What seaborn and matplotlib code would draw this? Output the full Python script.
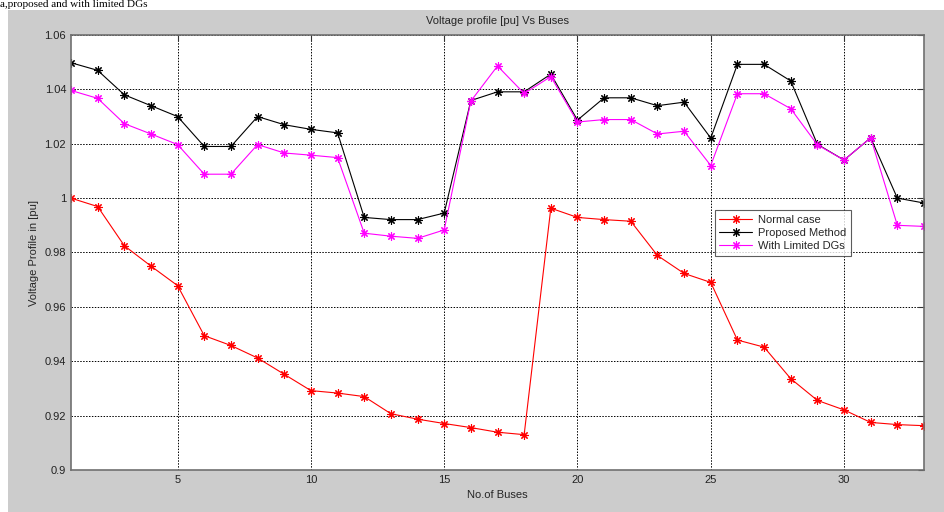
import numpy as np
import pandas as pd
import seaborn as sns
import matplotlib.pyplot as plt
from matplotlib.patches import Rectangle
from matplotlib.ticker import FuncFormatter

# bus numbers 1..33
buses = list(range(1, 34))

normal_case = [1.0, 0.9969, 0.9825, 0.9750, 0.9678, 0.9494, 0.9458, 0.9412, 0.9352, 0.9292,
               0.9283, 0.9270, 0.9207, 0.9187, 0.9171, 0.9156, 0.9139, 0.9130, 0.9963, 0.9929,
               0.9921, 0.9915, 0.9789, 0.9723, 0.9690, 0.9478, 0.9452, 0.9336, 0.9256, 0.9221,
               0.9175, 0.9167, 0.9163]

proposed = [1.0498, 1.0470, 1.0380, 1.0340, 1.0300, 1.0190, 1.0190, 1.0300, 1.0270, 1.0253,
            1.0240, 0.9929, 0.9921, 0.9921, 0.9945, 1.0359, 1.0391, 1.0391, 1.0456, 1.0287,
            1.0369, 1.0369, 1.0340, 1.0353, 1.0221, 1.0492, 1.0492, 1.0431, 1.0198, 1.0140,
            1.0222, 1.0000, 0.9982]

limited_dgs = [1.0396, 1.0367, 1.0274, 1.0236, 1.0197, 1.0088, 1.0088, 1.0197, 1.0166, 1.0158,
               1.0149, 0.9871, 0.9860, 0.9852, 0.9883, 1.0357, 1.0486, 1.0385, 1.0447, 1.0280,
               1.0289, 1.0289, 1.0236, 1.0246, 1.0120, 1.0384, 1.0384, 1.0329, 1.0196, 1.0140,
               1.0222, 0.9900, 0.9896]

series_names = ["Normal case", "Proposed Method", "With Limited DGs"]
series_colors = ["#ff0000", "#000000", "#ff00ff"]

df = pd.DataFrame({"bus": buses, series_names[0]: normal_case,
                   series_names[1]: proposed, series_names[2]: limited_dgs})
df = df.melt(id_vars="bus", var_name="case", value_name="voltage")

sns.set_style("white")
plt.rcParams['font.family'] = ['Liberation Sans', 'DejaVu Sans']

fig = plt.figure(figsize=(9.45, 5.12), dpi=100)
fig.patch.set_facecolor("white")
# gray MATLAB figure background, behind the axes
fig.patches.append(Rectangle((8 / 945, 0), 1, 502 / 512, transform=fig.transFigure,
                             facecolor="#cccccc", edgecolor="none", zorder=-5))
# caption text from the page above the figure
fig.text(0.0, 1.0, "a,proposed and with limited DGs", family="Liberation Serif",
         fontsize=8, va="top", ha="left", color="black")

ax = fig.add_axes([71 / 945, 42 / 512, 853 / 945, 435 / 512])
ax.set_facecolor("white")
ax.set_zorder(1)

for name, color in zip(series_names, series_colors):
    sub = df[df["case"] == name]
    sns.lineplot(data=sub, x="bus", y="voltage", ax=ax, color=color, linewidth=0.8,
                 marker=(8, 2, 0), markersize=6, markeredgecolor=color,
                 markeredgewidth=0.8, label=name)

ax.set_xlim(1, 33)
ax.set_ylim(0.9, 1.06)
ax.set_xticks([5, 10, 15, 20, 25, 30])
ax.set_yticks(np.arange(0.9, 1.0601, 0.02))
ax.yaxis.set_major_formatter(FuncFormatter(lambda v, p: "%g" % round(v, 2)))
ax.tick_params(direction="in", length=4, labelsize=8, colors="#333333",
               top=True, right=True, labelcolor="#222222")
ax.grid(True, linestyle=(0, (1.5, 1.5)), color="black", linewidth=0.7)
for s in ax.spines.values():
    s.set_color("#707070")
    s.set_linewidth(1.2)

ax.set_title("Voltage profile [pu] Vs Buses", fontsize=8, pad=8)
ax.set_xlabel("No.of Buses", fontsize=8)
ax.set_ylabel("Voltage Profile in [pu]", fontsize=8)

leg = ax.legend(loc="upper left", bbox_to_anchor=(0.748, 0.61), fontsize=8,
                frameon=True, fancybox=False, borderpad=0.4, handlelength=3,
                labelspacing=0.3, handletextpad=0.5)
leg.get_frame().set_edgecolor("#333333")
leg.get_frame().set_linewidth(0.8)

fig.savefig("out.png", dpi=100)
